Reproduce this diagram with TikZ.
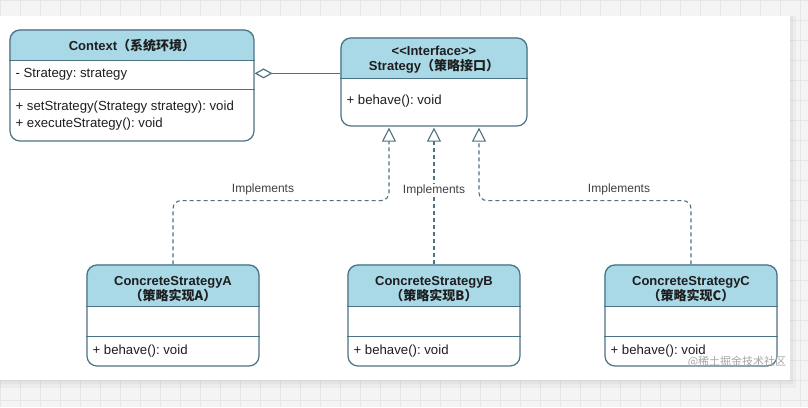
\documentclass[tikz,border=0pt]{standalone}
\usepackage{fontspec}
\setmainfont{Liberation Sans}
\newfontfamily\cjk{Noto Sans CJK SC}
\usepackage{tikz}
\usetikzlibrary{positioning,arrows.meta,calc,backgrounds}
\definecolor{antet}{HTML}{A9D8E7}
\definecolor{contur}{HTML}{4C7383}
\definecolor{scris}{HTML}{1E1E1E}
\definecolor{fundal}{HTML}{F4F4F4}
\definecolor{grila}{HTML}{E6E6E6}
\tikzset{
  clasa/.style       = {draw=contur, line width=1.2pt, rounded corners=10pt, inner sep=0pt},
  titlu/.style       = {font=\bfseries\fontsize{13}{15}\selectfont, align=center, text=scris, inner sep=0pt},
  membru/.style      = {anchor=west, align=left, text=scris, inner sep=0pt},
  separator/.style   = {draw=contur, line width=1.2pt},
  implementare/.style = {draw=contur, line width=1.1pt, dash pattern=on 4pt off 3pt, rounded corners=8pt,
                        -{Triangle[length=14pt, width=14pt, fill=white, line width=1.1pt]}},
  agregare/.style    = {draw=contur, line width=1.2pt,
                        -{Diamond[length=18pt, width=10pt, fill=white, line width=1.2pt]}},
  eticheta/.style    = {font=\fontsize{12}{14}\selectfont, text=scris!85, inner sep=1pt}
}
\frenchspacing

\begin{document}
\begin{tikzpicture}[x=1pt, y=-1pt, font=\fontsize{13.2}{17}\selectfont]
  \useasboundingbox (0,0) rectangle (808,407);
  % fundal cu grila si panou alb
  \begin{scope}[on background layer]
    \fill[fundal] (0,0) rectangle (808,407);
    \draw[grila, line width=0.6pt] (0,0) grid[step=20pt] (808,407);
    \fill[black, opacity=0.03] (0,16) rectangle (796,388);
    \fill[black, opacity=0.03] (0,16) rectangle (793,384);
    \fill[white] (0,16) rectangle (790,380);
  \end{scope}

  % clase
  \node[clasa, minimum width=244pt, minimum height=111pt] (ctx) at (132,85.5) {};
  \node[clasa, minimum width=186pt, minimum height=88pt] (str) at (434,82) {};
  \node[clasa, minimum width=172pt, minimum height=101pt] (ca) at (173,315.5) {};
  \node[clasa, minimum width=172pt, minimum height=101pt] (cb) at (434,315.5) {};
  \node[clasa, minimum width=172pt, minimum height=101pt] (cc) at (691,315.5) {};

  \foreach \n/\h in {ctx/31, str/41, ca/42, cb/42, cc/42} {
    \begin{scope}[on background layer]
      \begin{scope}
        \clip[rounded corners=10pt] (\n.south west) rectangle (\n.north east);
        \fill[antet] (\n.north west) rectangle ($(\n.north east)+(0,\h)$);
      \end{scope}
    \end{scope}
  }
  \foreach \n/\h in {ctx/31, ctx/60, str/41, ca/42, ca/72, cb/42, cb/72, cc/42, cc/72}
    \draw[separator] ($(\n.north west)+(0,\h)$) -- ($(\n.north east)+(0,\h)$);

  % texte
  \node[titlu] (ctxt) at ($(ctx.north)+(0,16)$) {Context{\cjk （系统环境）}};
  \node[membru] (ctxa) at ($(ctx.north west)+(6,45)$) {- Strategy: strategy};
  \node[membru] (ctxm) at ($(ctx.north west)+(6,86.5)$)
    {+ setStrategy(Strategy strategy): void\\+ executeStrategy(): void};
  \node[titlu] (strt) at ($(str.north)+(0,22.5)$) {<{}<Interface>{}>\\Strategy{\cjk （策略接口）}};
  \node[membru] (strm) at ($(str.north west)+(6,64)$) {+ behave(): void};
  \foreach \n/\l in {ca/A, cb/B, cc/C} {
    \node[titlu] (\n t) at ($(\n.north)+(0,24.5)$) {ConcreteStrategy\l\\{\cjk （策略实现\l）}};
    \node[membru] (\n m) at ($(\n.north west)+(6,87)$) {+ behave(): void};
  }

  % legaturi
  \coordinate (ja) at ($(str.south)+(-45,1)$);
  \coordinate (jb) at ($(str.south)+(0,1)$);
  \coordinate (jc) at ($(str.south)+(45,1)$);
  \draw[implementare] (ca.north) |- ($(ja)+(0,73)$) -- (ja);
  \draw[implementare] (cb.north) -- (jb);
  \draw[implementare] (cc.north) |- ($(jc)+(0,73)$) -- (jc);
  \node[eticheta] (ea) at ($(ja)+(-126,62)$) {Implements};
  \node[eticheta, fill=white] (eb) at ($(jb)+(0,63)$) {Implements};
  \node[eticheta] (ec) at ($(jc)+(140,62)$) {Implements};
  \draw[agregare] ($(str.north west)+(0,36)$) -- ($(ctx.north east)+(0,44)$);

  \node[font=\cjk\fontsize{11}{13}\selectfont, text=black!35, inner sep=0pt] (semn) at (737,362) {@稀土掘金技术社区};
\end{tikzpicture}
\end{document}
